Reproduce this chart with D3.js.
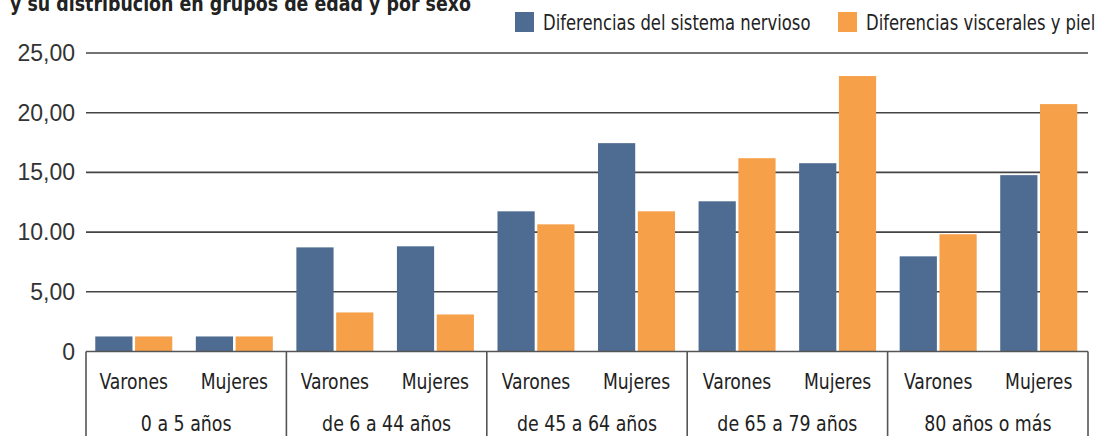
<!DOCTYPE html>
<html lang="es">
<head>
    <meta charset="UTF-8">
    <style>
        body { margin: 0; background: #fff; }
        svg { display: block; }
        .narrow { font-family: "Liberation Sans Narrow", "DejaVu Sans Condensed", sans-serif; fill: #222; }
        .ytick { font-family: "Liberation Sans", Arial, sans-serif; font-size: 23px; fill: #333; text-anchor: end; }
    </style>
    <script src="https://d3js.org/d3.v7.min.js"></script>
</head>
<body>
    <div id="chart"></div>
    <script>
        // data
        var ageGroups = ["0 a 5 años", "de 6 a 44 años", "de 45 a 64 años", "de 65 a 79 años", "80 años o más"];
        var sexes = ["Varones", "Mujeres"];
        var seriesNames = ["Diferencias del sistema nervioso", "Diferencias viscerales y piel"];
        // one value per age group x sex, in order Varones, Mujeres
        var nervioso = [1.26, 1.26, 8.72, 8.81, 11.74, 17.45, 12.58, 15.77, 7.97, 14.77];
        var visceral = [1.26, 1.26, 3.27, 3.10, 10.65, 11.74, 16.19, 23.07, 9.82, 20.72];
        var yTicks = [0, 5, 10, 15, 20, 25];
        var yTickLabels = ["0", "5,00", "10.00", "15,00", "20,00", "25,00"];
        var colors = ["#4e6b91", "#f7a04a"];

        var W = 1099, H = 436;
        var plotLeft = 86, plotRight = 1088, plotTop = 53, base = 351.5;

        var svg = d3.select("#chart").append("svg")
            .attr("width", W)
            .attr("height", H);

        // the fallback condensed font is a bit wider than the original, squeeze it
        function squeeze(sel, f) {
            sel.each(function () {
                var len = this.getComputedTextLength();
                d3.select(this)
                    .attr("textLength", len * f)
                    .attr("lengthAdjust", "spacingAndGlyphs");
            });
        }

        // title, cut off by the top edge
        svg.append("text")
            .attr("class", "narrow")
            .attr("x", 10)
            .attr("y", 11)
            .style("font-size", "22px")
            .style("font-weight", "bold")
            .text("y su distribución en grupos de edad y por sexo")
            .call(squeeze, 0.88);

        var cats = [];
        ageGroups.forEach(function (g) {
            sexes.forEach(function (s) { cats.push(g + "|" + s); });
        });

        var x = d3.scaleBand().domain(cats).range([plotLeft - 2.5, plotRight + 1]);
        var xg = d3.scaleBand().domain(ageGroups).range([plotLeft, plotRight]);
        var xs = d3.scaleBand().domain([0, 1]).range([0, 77]).paddingInner(0.065);
        var y = d3.scaleLinear().domain([0, 25]).range([base, plotTop]);

        // gridlines
        svg.append("g").selectAll("line")
            .data(yTicks.slice(1))
            .enter().append("line")
            .attr("x1", plotLeft).attr("x2", plotRight)
            .attr("y1", function (d) { return y(d); })
            .attr("y2", function (d) { return y(d); })
            .attr("stroke", "#444")
            .attr("stroke-width", 1.6);

        svg.append("g").selectAll("text")
            .data(yTicks)
            .enter().append("text")
            .attr("class", "ytick")
            .attr("x", 75)
            .attr("y", function (d) { return y(d) + 8; })
            .text(function (d, i) { return yTickLabels[i]; });

        // bars
        var rows = cats.map(function (c, i) { return { cat: c, vals: [nervioso[i], visceral[i]] }; });
        var grp = svg.append("g").selectAll("g")
            .data(rows)
            .enter().append("g")
            .attr("transform", function (d) { return "translate(" + (x(d.cat) + x.bandwidth() / 2 - 38.5) + ",0)"; });

        grp.selectAll("rect")
            .data(function (d) { return d.vals; })
            .enter().append("rect")
            .attr("x", function (d, i) { return xs(i); })
            .attr("width", xs.bandwidth())
            .attr("y", function (d) { return y(d); })
            .attr("height", function (d) { return base - y(d); })
            .attr("fill", function (d, i) { return colors[i]; });

        // category axis box
        svg.append("line")
            .attr("x1", plotLeft).attr("x2", plotRight)
            .attr("y1", base).attr("y2", base)
            .attr("stroke", "#555").attr("stroke-width", 1.6);

        var seps = ageGroups.map(function (g) { return xg(g); }).concat([plotRight]);
        svg.append("g").selectAll("line")
            .data(seps)
            .enter().append("line")
            .attr("x1", function (d) { return d; })
            .attr("x2", function (d) { return d; })
            .attr("y1", base).attr("y2", H)
            .attr("stroke", "#555").attr("stroke-width", 1.6);

        svg.append("g").selectAll("text")
            .data(cats)
            .enter().append("text")
            .attr("class", "narrow")
            .attr("x", function (d) { return x(d) + x.bandwidth() / 2; })
            .attr("y", 389)
            .attr("text-anchor", "middle")
            .style("font-size", "21px")
            .text(function (d) { return d.split("|")[1]; })
            .call(squeeze, 0.91);

        svg.append("g").selectAll("text")
            .data(ageGroups)
            .enter().append("text")
            .attr("class", "narrow")
            .attr("x", function (d) { return xg(d) + xg.bandwidth() / 2; })
            .attr("y", 431)
            .attr("text-anchor", "middle")
            .style("font-size", "21px")
            .text(function (d) { return d; })
            .call(squeeze, 0.92);

        // legend
        var legX = [515, 838];
        var leg = svg.append("g").selectAll("g")
            .data(seriesNames)
            .enter().append("g")
            .attr("transform", function (d, i) { return "translate(" + legX[i] + ",12)"; });
        leg.append("rect")
            .attr("width", 19).attr("height", 20)
            .attr("fill", function (d, i) { return colors[i]; });
        leg.append("text")
            .attr("class", "narrow")
            .attr("x", 28)
            .attr("y", 18)
            .style("font-size", "22px")
            .text(function (d) { return d; })
            .call(squeeze, 0.83);
    </script>
</body>
</html>
